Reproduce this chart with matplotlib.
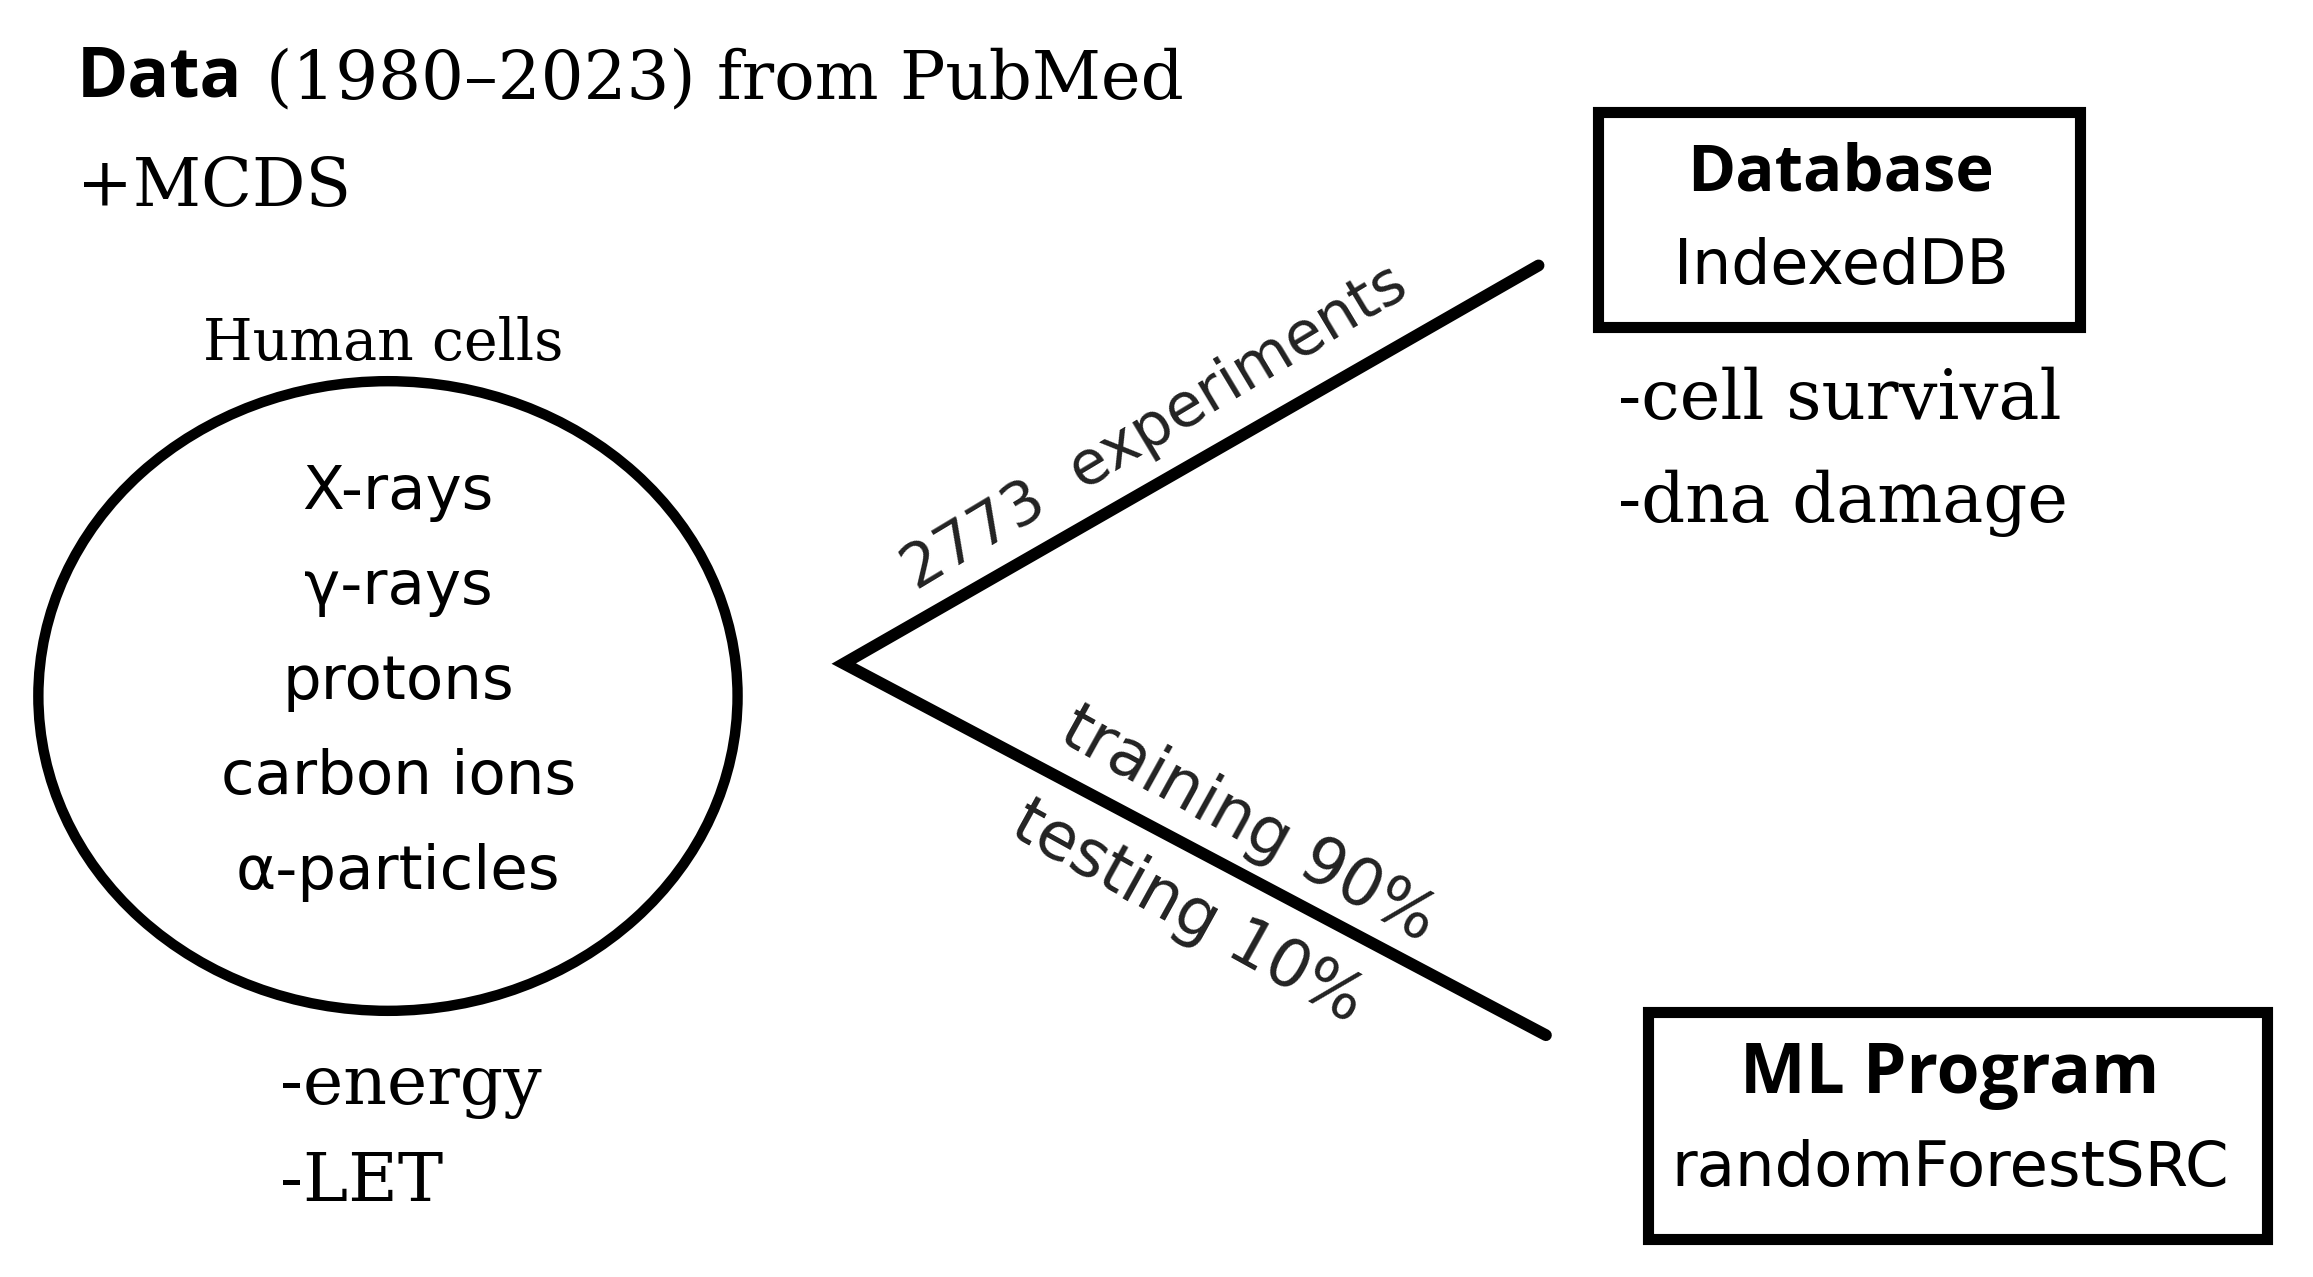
import matplotlib
matplotlib.use('Agg')
import matplotlib.pyplot as plt
from matplotlib.patches import Ellipse, Rectangle

# texts of the diagram
title_bold = 'Data'
title_rest = '(1980–2023) from PubMed'
title_extra = '+MCDS'
cell_label = 'Human cells'
radiations = ['X-rays', 'γ-rays', 'protons', 'carbon ions', 'α-particles']
inputs = ['-energy', '-LET']
outputs = ['-cell survival', '-dna damage']
db_title, db_sub = 'Database', 'IndexedDB'
ml_title, ml_sub = 'ML Program', 'randomForestSRC'
n_experiments = 2773
split_train, split_test = 90, 10

SANS = ['DejaVu Sans']
SANS_B = ['Open Sans', 'DejaVu Sans']
SERIF = ['DejaVu Serif']

fig = plt.figure(figsize=(23.13, 12.77), dpi=100)
ax = fig.add_axes([0, 0, 1, 1])
ax.set_xlim(0, 1568)
ax.set_ylim(866, 0)
ax.axis('off')

# header
ax.text(52, 53, title_bold, family=SANS_B, weight='bold', fontsize=50, va='center', ha='left')
ax.text(180, 54, title_rest, family=SERIF, fontsize=48.5, va='center', ha='left')
ax.text(52, 127, title_extra, family=SERIF, fontsize=48, va='center', ha='left')

# circle with radiation types
ax.text(260, 233, cell_label, family=SERIF, fontsize=41, va='center', ha='center')
ax.add_patch(Ellipse((263, 472), 474, 427, fill=False, lw=7.5, ec='black'))
for i, r in enumerate(radiations):
    ax.text(270, 334 + i * 64.5, r, family=SANS, fontsize=44, va='center', ha='center')
for i, t in enumerate(inputs):
    ax.text(190, 737 + i * 65, t, family=SERIF, fontsize=49, va='center', ha='left')

# branches
ax.plot([1043, 572, 1048], [180, 450, 702], color='black', lw=8.5,
        solid_joinstyle='miter', solid_capstyle='round')
ax.text(783, 290, f'{n_experiments}  experiments', family=SANS, fontsize=44,
        color='#222222', rotation=31, rotation_mode='anchor', ha='center', va='center')
ax.text(846, 560, f'training {split_train}%', family=SANS, fontsize=47,
        color='#222222', rotation=-29, rotation_mode='anchor', ha='center', va='center')
ax.text(805, 619, f'testing {split_test}%', family=SANS, fontsize=47,
        color='#222222', rotation=-29, rotation_mode='anchor', ha='center', va='center')

# database box
ax.add_patch(Rectangle((1083, 76), 327, 146, fill=False, lw=8, ec='black'))
ax.text(1248, 118, db_title, family=SANS_B, weight='bold', fontsize=47, va='center', ha='center')
ax.text(1248, 181, db_sub, family=SANS, fontsize=44.5, va='center', ha='center')
for i, t in enumerate(outputs):
    ax.text(1097, 271 + i * 70, t, family=SERIF, fontsize=49.5, va='center', ha='left')

# ML box
ax.add_patch(Rectangle((1117, 686), 420, 154, fill=False, lw=8, ec='black'))
ax.text(1322, 729, ml_title, family=SANS_B, weight='bold', fontsize=50, va='center', ha='center')
ax.text(1322, 793, ml_sub, family=SANS, fontsize=45, va='center', ha='center')

fig.savefig('out.png', dpi=100, facecolor='white')
